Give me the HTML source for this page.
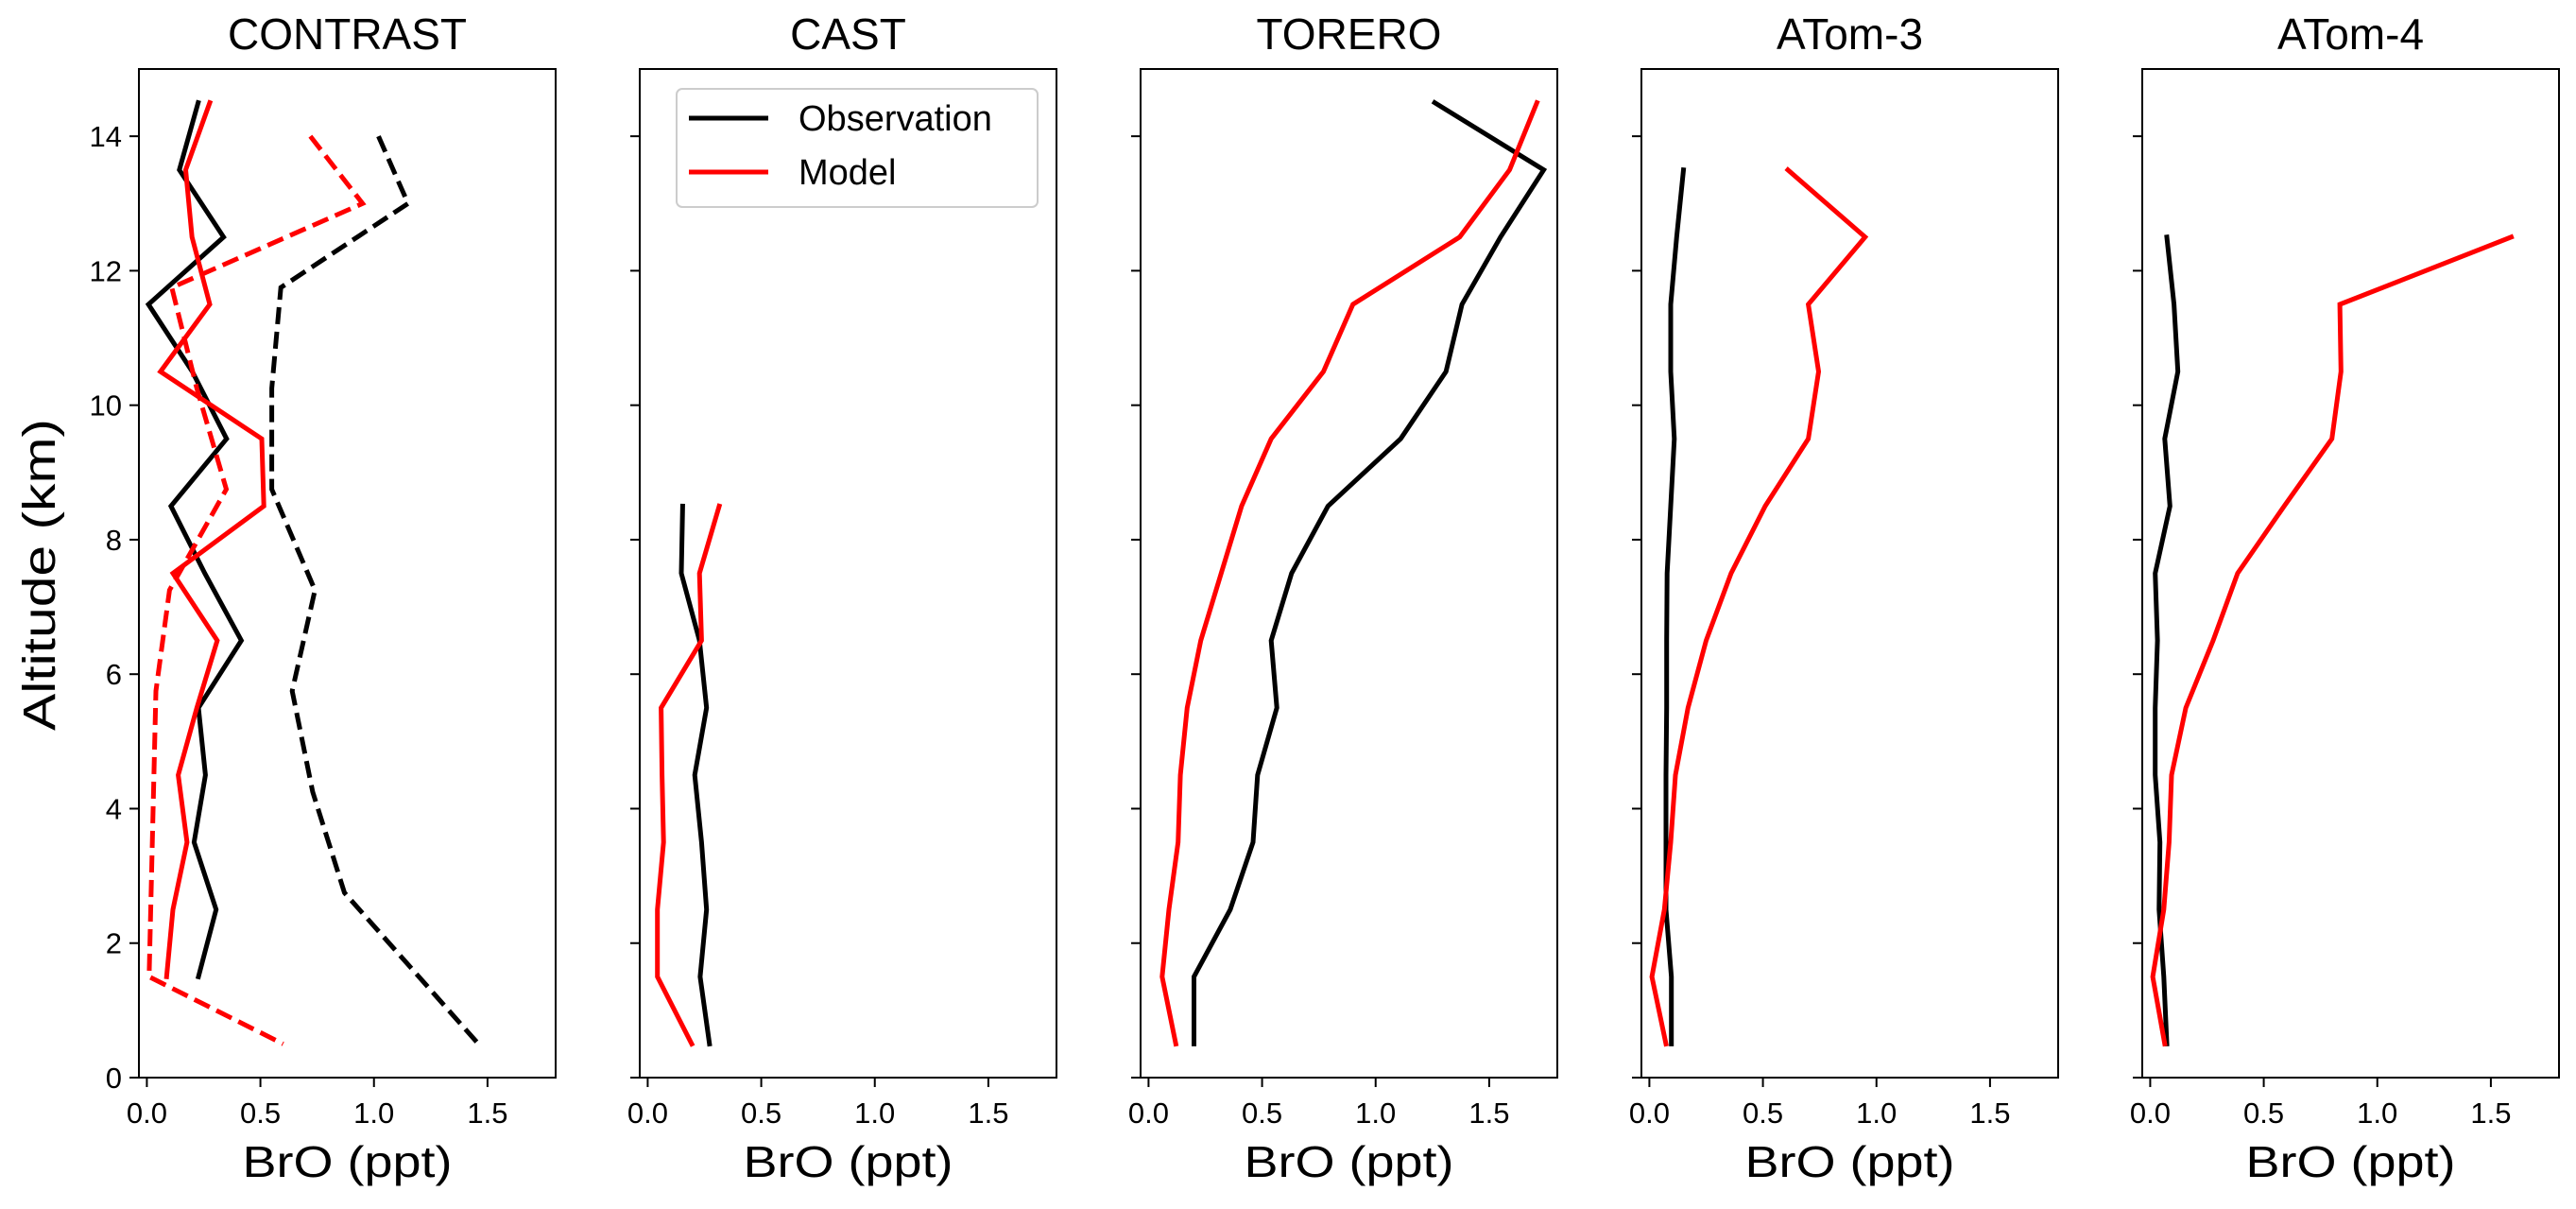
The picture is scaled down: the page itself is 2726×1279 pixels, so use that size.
<!DOCTYPE html>
<html><head><meta charset="utf-8">
<style>
html,body{margin:0;padding:0;background:#fff;}
svg{display:block;font-family:"Liberation Sans","DejaVu Sans",sans-serif;}
</style></head>
<body>
<svg id="chart" width="2726" height="1279" viewBox="0 0 2726 1279" xmlns="http://www.w3.org/2000/svg">
<rect width="2726" height="1279" fill="#fff"/>
<text x="0" y="0" transform="translate(58,608) rotate(-90)" text-anchor="middle" font-size="48" textLength="330" lengthAdjust="spacingAndGlyphs">Altitude (km)</text>
</svg>
<script>
const titles = ["CONTRAST","CAST","TORERO","ATom-3","ATom-4"];
const xTicks = [0,0.5,1.0,1.5];
const xTickLabels = ["0.0","0.5","1.0","1.5"];
const yTicks = [0,2,4,6,8,10,12,14];
// CONTRAST
const contrastObsAlt = [14.5,13.5,12.5,11.5,10.5,9.5,8.5,7.5,6.5,5.5,4.5,3.5,2.5,1.5];
const contrastObs = [0.226,0.143,0.338,0.007,0.2,0.351,0.106,0.255,0.416,0.227,0.258,0.208,0.305,0.227];
const contrastModAlt = [14.5,13.5,12.5,11.5,10.5,9.5,8.5,7.5,6.5,5.5,4.5,3.5,2.5,1.5];
const contrastMod = [0.277,0.171,0.199,0.277,0.06,0.506,0.515,0.115,0.31,0.22,0.138,0.177,0.115,0.087];
const contrastObsDashAlt = [14.0,13.0,11.75,10.25,8.75,7.25,5.75,4.25,2.75,0.5];
const contrastObsDash = [1.02,1.15,0.59,0.55,0.55,0.74,0.64,0.73,0.87,1.46];
const contrastModDashAlt = [14.0,13.0,11.75,10.25,8.75,7.25,5.75,1.5,0.5];
const contrastModDash = [0.72,0.95,0.11,0.22,0.35,0.1,0.04,0.01,0.6];
// CAST
const castAlt = [8.5,7.5,6.5,5.5,4.5,3.5,2.5,1.5,0.5];
const castObs = [0.154,0.148,0.228,0.259,0.207,0.237,0.259,0.231,0.272];
const castMod = [0.315,0.228,0.237,0.059,0.063,0.07,0.043,0.043,0.194];
// TORERO
const toreroAlt = [14.5,13.5,12.5,11.5,10.5,9.5,8.5,7.5,6.5,5.5,4.5,3.5,2.5,1.5,0.5];
const toreroObs = [1.26,1.74,1.55,1.38,1.31,1.11,0.79,0.63,0.54,0.565,0.48,0.46,0.36,0.20,0.20];
const toreroMod = [1.71,1.59,1.37,0.90,0.77,0.54,0.41,0.32,0.23,0.17,0.14,0.13,0.09,0.06,0.12];
// ATom-3
const atom3Alt = [13.5,12.5,11.5,10.5,9.5,8.5,7.5,6.5,5.5,4.5,3.5,2.5,1.5,0.5];
const atom3Obs = [0.15,0.12,0.094,0.094,0.11,0.094,0.078,0.076,0.076,0.073,0.073,0.073,0.097,0.097];
const atom3Mod = [0.61,0.95,0.70,0.745,0.70,0.51,0.36,0.25,0.17,0.115,0.094,0.066,0.011,0.073];
// ATom-4
const atom4Alt = [12.5,11.5,10.5,9.5,8.5,7.5,6.5,5.5,4.5,3.5,2.5,1.5,0.5];
const atom4Obs = [0.073,0.105,0.122,0.064,0.087,0.022,0.032,0.022,0.022,0.043,0.039,0.06,0.073];
const atom4Mod = [1.59,0.835,0.84,0.80,0.59,0.385,0.277,0.157,0.094,0.083,0.06,0.011,0.064];

const NS="http://www.w3.org/2000/svg";
const svg=document.getElementById('chart');
const panelLeft0=147, panelStep=530, panelW=441, axTop=73, axBottom=1140;
const xMin=-0.035, xMax=1.8, yMin=0, yMax=15;
function mk(tag,attrs,parent){const e=document.createElementNS(NS,tag);for(const k in attrs)e.setAttribute(k,attrs[k]);(parent||svg).appendChild(e);return e;}

const panels=[
 {series:[[contrastObs,contrastObsAlt,'#000',false,'obs'],[contrastMod,contrastModAlt,'#f00',false,'model'],[contrastObsDash,contrastObsDashAlt,'#000',true,'obs-dashed'],[contrastModDash,contrastModDashAlt,'#f00',true,'model-dashed']]},
 {series:[[castObs,castAlt,'#000',false,'obs'],[castMod,castAlt,'#f00',false,'model']]},
 {series:[[toreroObs,toreroAlt,'#000',false,'obs'],[toreroMod,toreroAlt,'#f00',false,'model']]},
 {series:[[atom3Obs,atom3Alt,'#000',false,'obs'],[atom3Mod,atom3Alt,'#f00',false,'model']]},
 {series:[[atom4Obs,atom4Alt,'#000',false,'obs'],[atom4Mod,atom4Alt,'#f00',false,'model']]}
];

panels.forEach((p,i)=>{
  const L=panelLeft0+i*panelStep, R=L+panelW;
  const xs=v=>L+(v-xMin)/(xMax-xMin)*panelW;
  const ys=v=>axBottom-(v-yMin)/(yMax-yMin)*(axBottom-axTop);
  const g=mk('g',{});
  
  
  const t=mk('text',{x:(L+R)/2,y:52,'text-anchor':'middle','font-size':46},g);
  
  
  t.textContent=titles[i];
  p.series.forEach(s=>{
    const pts=s[0].map((v,k)=>xs(v).toFixed(1)+','+ys(s[1][k]).toFixed(1)).join(' ');
    const pl=mk('polyline',{points:pts,fill:'none',stroke:s[2],'stroke-width':5,'stroke-linejoin':'miter','stroke-linecap':s[3]?'butt':'square'},g);
    if(s[3]) pl.setAttribute('stroke-dasharray','18 8');
    
    
  });
  const fr=mk('rect',{x:L,y:axTop,width:panelW,height:axBottom-axTop,fill:'none',stroke:'#000','stroke-width':2},g);
  
  
  xTicks.forEach((v,k)=>{
    mk('line',{x1:xs(v),x2:xs(v),y1:axBottom,y2:axBottom+10,stroke:'#000','stroke-width':2},g);
    const tl=mk('text',{x:xs(v),y:1188,'text-anchor':'middle','font-size':31},g);
    
    
    tl.textContent=xTickLabels[k];
  });
  yTicks.forEach(v=>{
    mk('line',{x1:L-10,x2:L,y1:ys(v),y2:ys(v),stroke:'#000','stroke-width':2},g);
    if(i===0){
      const yl=mk('text',{x:L-18,y:ys(v)+11,'text-anchor':'end','font-size':31},g);
      
      
      yl.textContent=String(v);
    }
  });
  const xl=mk('text',{x:(L+R)/2,y:1245,'text-anchor':'middle','font-size':46,textLength:222,lengthAdjust:'spacingAndGlyphs'},g);
  
  
  xl.textContent='BrO (ppt)';
});

// legend
const lg=mk('g',{});


mk('rect',{x:716,y:94,width:382,height:125,rx:6,fill:'#fff',stroke:'#ccc','stroke-width':2},lg);
[['Observation','#000',125],['Model','#f00',182]].forEach(e=>{
  const ln=mk('line',{x1:729,x2:813,y1:e[2],y2:e[2],stroke:e[1],'stroke-width':5},lg);
  
  
  const tx=mk('text',{x:845,y:e[2]+13,'font-size':38},lg);
  
  
  tx.textContent=e[0];
});
</script>
</body></html>
